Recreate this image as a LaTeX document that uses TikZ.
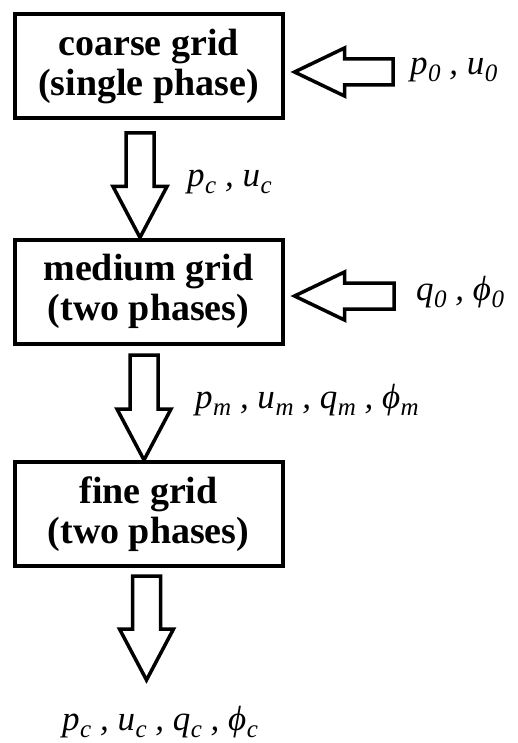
\documentclass[tikz,border=0pt]{standalone}
\usepackage{fontspec}
\setmainfont{Liberation Serif}
\usetikzlibrary{calc}

\newcommand{\lsub}[2]{#1\kern0.5pt\raisebox{-0.2em}{\fontsize{25}{25}\selectfont #2}}

\newcommand{\blockdown}[2]{%
  \draw[fatarrow] let \p1=(#1), \p2=(#2) in
    (\x1-14pt,\y1) -- (\x1+14pt,\y1) -- (\x1+14pt,\y2+51pt) -- (\x1+27pt,\y2+51pt)
    -- (\x1,\y2) -- (\x1-27pt,\y2+51pt) -- (\x1-14pt,\y2+51pt) -- cycle;}
\newcommand{\blockleft}[2]{%
  \draw[fatarrow] let \p1=(#1), \p2=(#2) in
    (\x1,\y1+13pt) -- (\x1,\y1-13pt) -- (\x2+50pt,\y1-13pt) -- (\x2+50pt,\y1-24pt)
    -- (\x2,\y1) -- (\x2+50pt,\y1+24pt) -- (\x2+50pt,\y1+13pt) -- cycle;}

\begin{document}
\begin{tikzpicture}[x=1pt, y=-1pt,
    gridbox/.style={draw, line width=4pt, minimum width=268pt, minimum height=104pt,
        inner sep=0pt, align=center, font=\fontsize{38}{40}\selectfont\bfseries},
    fatarrow/.style={line width=3.5pt, line join=miter},
    varlabel/.style={anchor=base west, inner sep=0pt, font=\fontsize{35}{36}\selectfont\itshape}]
    \useasboundingbox (0,0) rectangle (517,743);

    \node[gridbox] (coarse) at (148.5, 66.5) {coarse grid\\(single phase)};
    \node[gridbox] (medium) at (148.5,291.5) {medium grid\\(two phases)};
    \node[gridbox] (fine)   at (148.5,514.0) {fine grid\\(two phases)};

    \coordinate (in0)  at (393, 72);
    \coordinate (in1)  at (394,296);
    \coordinate (out0) at (140,133);
    \coordinate (out1) at (144,355);
    \coordinate (out2) at (146.5,576);
    \coordinate (end2) at (146.5,680);

    \blockleft{in0}{$(coarse.east)+(10,0)$}
    \blockleft{in1}{$(medium.east)+(10,0)$}
    \blockdown{out0}{out0 |- medium.north}
    \blockdown{out1}{out1 |- fine.north}
    \blockdown{out2}{end2}

    \node[varlabel] (pu0)   at (410, 75) {\lsub{p}{0} , \lsub{u}{0}};
    \node[varlabel] (qphi0) at (416,300) {\lsub{q}{0} , \lsub{ϕ}{0}};
    \node[varlabel] (puc)   at (187,187) {\lsub{p}{c} , \lsub{u}{c}};
    \node[varlabel] (pum)   at (195,408) {\lsub{p}{m} , \lsub{u}{m} , \lsub{q}{m} , \lsub{ϕ}{m}};
    \node[varlabel] (puf)   at (62,730)  {\lsub{p}{c} , \lsub{u}{c} , \lsub{q}{c} , \lsub{ϕ}{c}};
\end{tikzpicture}
\end{document}
